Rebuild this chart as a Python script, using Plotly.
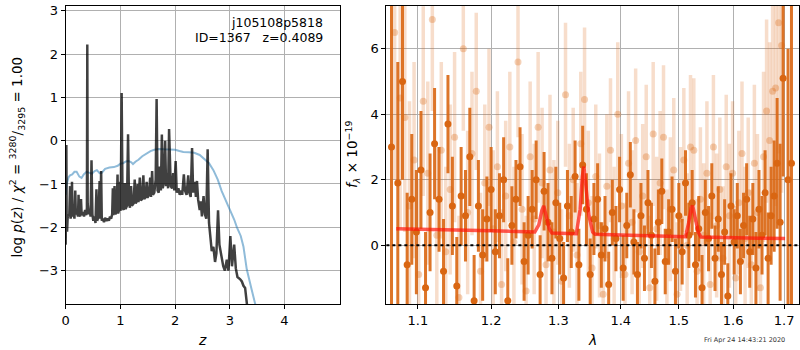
import plotly.graph_objects as go

# ---------------- left panel: log p(z) ----------------
pz_z = [0.000, 0.006, 0.012, 0.018, 0.025, 0.035, 0.050, 0.065, 0.080, 0.090,
        0.105, 0.115, 0.125, 0.145, 0.160, 0.175, 0.185, 0.205, 0.225, 0.235,
        0.245, 0.265, 0.280, 0.292, 0.315, 0.335, 0.355, 0.375, 0.388, 0.395,
        0.402, 0.420, 0.440, 0.455, 0.472, 0.488, 0.505, 0.525, 0.545, 0.562,
        0.575, 0.600, 0.620, 0.632, 0.648, 0.660, 0.680, 0.700, 0.720, 0.745,
        0.770, 0.790, 0.810, 0.830, 0.850, 0.862, 0.872, 0.893, 0.905, 0.930,
        0.948, 0.958, 0.975, 0.990, 1.005, 1.023, 1.040, 1.060, 1.080, 1.095,
        1.120, 1.140, 1.158, 1.175, 1.195, 1.210, 1.240, 1.262, 1.278, 1.300,
        1.315, 1.330, 1.355, 1.372, 1.395, 1.420, 1.435, 1.460, 1.480, 1.495,
        1.520, 1.545, 1.560, 1.580, 1.595, 1.620, 1.645, 1.662, 1.680, 1.700,
        1.720, 1.740, 1.758, 1.775, 1.795, 1.818, 1.835, 1.855, 1.872, 1.890,
        1.905, 1.920, 1.945, 1.965, 1.985, 2.010, 2.030, 2.060, 2.085, 2.110,
        2.130, 2.160, 2.180, 2.210, 2.240, 2.260, 2.285, 2.310, 2.330, 2.360,
        2.380, 2.400, 2.420, 2.450, 2.470, 2.490, 2.520, 2.545, 2.570, 2.595,
        2.620, 2.645, 2.670, 2.700, 2.730, 2.755, 2.785, 2.810, 2.850, 2.880,
        2.910, 2.945, 2.975, 3.010, 3.040, 3.080, 3.110, 3.140, 3.190, 3.220,
        3.250, 3.280, 3.320, 3.360]
pz_logp = [-2.40, -1.20, -0.10, -1.90, -2.10, -1.80, -1.70, -1.75, -1.05, -1.80,
           -1.70, -0.95, -1.75, -1.65, -1.80, -1.15, -1.70, -1.65, -1.75, -1.25,
           -1.70, -1.75, -1.35, -1.72, -1.65, -1.75, -1.60, -1.72, -1.55, 2.22,
           -1.45, -1.70, -1.60, -1.75, -0.45, -1.70, -1.85, -1.75, -1.90, -1.12,
           -1.85, -1.75, -0.93, -1.80, -0.70, -1.85, -1.80, -1.88, -1.78, -1.85,
           -1.80, -1.85, -1.75, -1.80, -1.70, -1.10, -1.72, -1.05, -1.70, -1.65,
           -0.78, -1.68, -1.60, -0.95, -1.62, 1.10, -1.55, -1.60, -0.98, -1.58,
           -1.50, 0.15, -1.45, -1.55, -1.05, -1.50, -1.45, -0.90, -1.45, -1.40,
           -1.00, -1.42, -0.85, -1.38, -1.35, -0.80, -1.35, -1.30, -0.95, -1.32,
           -1.25, -0.85, -1.30, -0.70, -1.25, -1.20, -0.90, 0.96, -1.15, -1.20,
           -0.60, -1.15, 0.14, -1.10, -0.95, 0.00, -1.05, -0.75, -1.10, 0.27,
           -0.40, -1.05, -1.10, -0.75, -1.15, -0.47, -1.20, -1.10, -1.25, -1.15,
           -1.25, -0.78, -1.15, -1.25, -0.80, -1.20, -1.30, -0.17, -1.20, -0.95,
           -1.30, -0.93, -1.35, -1.60, -1.40, -1.75, -1.28, -1.70, -1.80, -0.20,
           -1.90, -2.20, -2.55, -2.45, -2.80, -2.60, -1.61, -2.40, -2.68, -2.90,
           -3.00, -2.75, -3.00, -2.20, -2.90, -2.40, -2.95, -3.15, -3.20, -3.25,
           -3.35, -3.40, -3.85, -3.95]

prior_z = [0.00, 0.02, 0.05, 0.08, 0.12, 0.16, 0.20, 0.25, 0.29, 0.33,
           0.38, 0.43, 0.48, 0.53, 0.57, 0.62, 0.66, 0.72, 0.80, 0.88,
           0.95, 1.00, 1.05, 1.10, 1.15, 1.20, 1.23, 1.28, 1.33, 1.40,
           1.48, 1.55, 1.62, 1.70, 1.80, 1.90, 2.00, 2.08, 2.15, 2.25,
           2.35, 2.45, 2.55, 2.62, 2.70, 2.78, 2.85, 2.93, 3.01, 3.08,
           3.13, 3.20, 3.25, 3.31, 3.40, 3.47]
prior_logp = [-1.25, -1.00, -0.85, -0.80, -0.78, -0.72, -0.72, -0.83, -0.86, -0.78,
              -0.72, -0.74, -0.76, -0.70, -0.68, -0.75, -0.74, -0.65, -0.62, -0.61,
              -0.58, -0.53, -0.52, -0.48, -0.47, -0.50, -0.54, -0.48, -0.44, -0.36,
              -0.29, -0.24, -0.21, -0.19, -0.20, -0.20, -0.21, -0.24, -0.26, -0.27,
              -0.28, -0.33, -0.43, -0.52, -0.68, -0.90, -1.16, -1.38, -1.60, -1.82,
              -2.00, -2.20, -2.45, -2.97, -3.44, -3.80]

# ---------------- right panel: spectrum ----------------
dark_wave = [1.066, 1.074, 1.080, 1.086, 1.092, 1.098, 1.104, 1.110, 1.116, 1.122,
             1.128, 1.134, 1.140, 1.146, 1.152, 1.158, 1.164, 1.170, 1.176, 1.182,
             1.188, 1.194, 1.200, 1.206, 1.212, 1.218, 1.224, 1.230, 1.236, 1.242,
             1.248, 1.254, 1.260, 1.266, 1.272, 1.278, 1.284, 1.290, 1.296, 1.302,
             1.308, 1.314, 1.320, 1.326, 1.332, 1.338, 1.344, 1.350, 1.356, 1.362,
             1.368, 1.374, 1.380, 1.386, 1.392, 1.398, 1.404, 1.410, 1.416, 1.422,
             1.428, 1.434, 1.440, 1.446, 1.452, 1.458, 1.464, 1.470, 1.476, 1.482,
             1.488, 1.494, 1.500, 1.506, 1.512, 1.518, 1.524, 1.530, 1.536, 1.542,
             1.548, 1.554, 1.560, 1.566, 1.572, 1.578, 1.584, 1.590, 1.596, 1.602,
             1.608, 1.614, 1.620, 1.626, 1.632, 1.638, 1.644, 1.650, 1.656, 1.662,
             1.668, 1.674, 1.680, 1.686, 1.692, 1.698, 1.708, 1.715]
dark_flux = [3.0, 1.9, 5.0, -0.6, 1.4, 0.4, 2.3, -1.3, 1.0, 3.1,
             1.4, -0.8, 3.7, 1.2, -1.25, 1.5, 0.9, 2.7, -1.7, 1.2,
             -0.3, 0.8, 1.7, -0.2, 0.9, 2.0, -1.7, 0.6, 1.4, 2.4,
             -0.5, 0.3, 1.1, 2.0, -0.9, 1.65, 0.7, -0.4, 1.3, 0.2,
             -1.0, 1.2, 0.4, 2.1, -0.6, 2.45, 1.1, -0.9, 0.8, 1.4,
             -0.3, 0.5, -1.2, 1.0, 0.2, 1.7, -0.7, 0.6, 2.15, 0.1,
             -0.9, 0.9, -0.4, 1.3, 0.3, -1.1, 0.7, 1.65, -0.5, 0.4,
             1.1, -0.8, 0.9, -0.2, 1.9, 0.3, 1.3, -0.6, 0.5, -1.3,
             1.0, 0.2, 1.5, -0.4, 0.8, -0.9, 0.4, -1.55, 1.2, 0.1,
             0.9, -0.5, 0.6, 1.4, -0.2, 0.8, -0.7, 1.1, 0.3, 1.6,
             -0.4, 0.9, 1.5, 2.5, 0.7, 5.1, 2.0, 2.5]
dark_err = [10.0, 3.7, 3.0, 2.2, 2.0, 1.9, 1.8, 1.7, 1.8, 1.7,
            1.6, 1.6, 1.5, 1.5, 1.5, 1.5, 1.4, 1.5, 1.4, 1.4,
            1.4, 1.3, 1.3, 1.3, 1.3, 1.3, 1.3, 1.2, 1.2, 1.2,
            1.2, 1.2, 1.2, 1.2, 1.2, 1.2, 1.2, 1.1, 1.1, 1.1,
            1.1, 1.1, 1.1, 1.1, 1.1, 1.2, 1.1, 1.1, 1.1, 1.1,
            1.0, 1.0, 1.0, 1.0, 1.0, 1.0, 1.0, 1.0, 1.0, 1.0,
            1.0, 1.0, 1.0, 1.0, 1.0, 1.0, 1.0, 1.0, 1.0, 1.0,
            1.0, 1.0, 1.0, 1.0, 1.0, 1.0, 1.0, 1.0, 1.0, 1.0,
            1.0, 1.0, 1.0, 1.0, 1.0, 1.0, 1.0, 1.0, 1.0, 1.0,
            1.0, 1.0, 1.0, 1.1, 1.1, 1.1, 1.1, 1.2, 1.2, 1.3,
            1.4, 1.5, 1.7, 2.0, 2.4, 3.0, 4.0, 6.0]

light_wave = [1.070, 1.077, 1.083, 1.089, 1.095, 1.101, 1.107, 1.113, 1.119, 1.125,
              1.131, 1.137, 1.143, 1.149, 1.155, 1.161, 1.167, 1.173, 1.179, 1.185,
              1.191, 1.197, 1.203, 1.209, 1.215, 1.221, 1.227, 1.233, 1.239, 1.245,
              1.251, 1.257, 1.263, 1.269, 1.275, 1.281, 1.287, 1.293, 1.299, 1.305,
              1.311, 1.317, 1.323, 1.329, 1.335, 1.341, 1.347, 1.353, 1.359, 1.365,
              1.371, 1.377, 1.383, 1.389, 1.395, 1.401, 1.407, 1.413, 1.419, 1.425,
              1.431, 1.437, 1.443, 1.449, 1.455, 1.461, 1.467, 1.473, 1.479, 1.485,
              1.491, 1.497, 1.503, 1.509, 1.515, 1.521, 1.527, 1.533, 1.539, 1.545,
              1.551, 1.557, 1.563, 1.569, 1.575, 1.581, 1.587, 1.593, 1.599, 1.605,
              1.611, 1.617, 1.623, 1.629, 1.635, 1.641, 1.647, 1.653, 1.659, 1.665,
              1.671, 1.677, 1.683, 1.689, 1.695]
light_flux = [6.5, 4.5, 3.9, 1.2, 2.6, -0.9, 4.4, 2.2, 6.9, 0.3,
              2.9, -0.2, 1.7, 3.3, -1.6, 6.0, 1.0, 2.8, 4.7, -0.8,
              1.9, 3.6, 0.5, 2.4, -1.2, 1.5, 3.0, 0.1, 5.6, 1.1,
              -1.4, 2.7, 0.8, 3.6, 1.9, -0.6, 2.3, 0.4, 1.6, -1.1,
              4.6, 0.9, 2.0, -0.3, 3.1, 4.45, 1.3, -0.7, 2.1, 0.6,
              -1.5, 1.8, 2.9, 0.2, 4.0, 1.2, -0.9, 2.5, 0.7, 3.2,
              -0.2, 1.5, 2.7, -1.3, 3.4, 0.5, 1.9, 3.3, -0.5, 1.1,
              2.3, -1.5, 0.8, 2.6, 0.0, 3.0, 2.9, -0.8, 1.4, 0.3,
              2.2, -1.2, 3.0, 0.6, 1.7, -0.4, 2.4, 0.9, 2.2, -1.0,
              1.3, 2.8, 0.2, 1.6, -0.6, 2.5, 1.0, -1.3, 2.7, 4.1,
              3.2, 4.7, 4.8, 6.8, 6.1]
light_err = [4.5, 4.0, 3.5, 3.2, 3.0, 2.9, 2.9, 2.8, 2.8, 2.7,
             2.7, 2.6, 2.6, 2.6, 2.5, 2.5, 2.5, 2.5, 2.4, 2.4,
             2.4, 2.4, 2.4, 2.3, 2.3, 2.3, 2.3, 2.3, 2.3, 2.3,
             2.3, 2.3, 2.3, 2.3, 2.3, 2.3, 2.3, 2.2, 2.2, 2.2,
             2.2, 2.2, 2.2, 2.2, 2.2, 2.2, 2.2, 2.2, 2.2, 2.2,
             2.2, 2.2, 2.2, 2.2, 2.2, 2.2, 2.2, 2.2, 2.2, 2.2,
             2.2, 2.2, 2.2, 2.2, 2.2, 2.2, 2.2, 2.2, 2.2, 2.2,
             2.2, 2.2, 2.2, 2.2, 2.2, 2.2, 2.2, 2.2, 2.2, 2.2,
             2.2, 2.2, 2.2, 2.2, 2.2, 2.2, 2.2, 2.2, 2.2, 2.2,
             2.2, 2.2, 2.2, 2.3, 2.3, 2.4, 2.4, 2.5, 2.6, 2.8,
             3.0, 3.3, 3.6, 4.0, 4.5]

model_wave = [1.072, 1.100, 1.150, 1.200, 1.250, 1.264, 1.270, 1.2745, 1.2775, 1.281,
              1.286, 1.290, 1.300, 1.320, 1.328, 1.334, 1.3375, 1.340, 1.343, 1.348,
              1.354, 1.358, 1.400, 1.450, 1.500, 1.512, 1.518, 1.5225, 1.525, 1.529,
              1.535, 1.540, 1.560, 1.600, 1.650, 1.702]
model_flux = [0.50, 0.48, 0.46, 0.44, 0.42, 0.40, 0.62, 1.05, 1.20, 0.95,
              0.50, 0.37, 0.36, 0.35, 0.35, 1.10, 2.10, 2.40, 1.90, 0.90,
              0.40, 0.33, 0.31, 0.29, 0.27, 0.26, 0.70, 1.15, 1.20, 0.85,
              0.40, 0.25, 0.24, 0.23, 0.21, 0.20]

z_ticks = [0, 1, 2, 3, 4]
logp_ticks = [-3, -2, -1, 0, 1, 2, 3]
logp_ticktext = ["\u22123", "\u22122", "\u22121", "0", "1", "2", "3"]
wave_ticks = [1.1, 1.2, 1.3, 1.4, 1.5, 1.6, 1.7]
wave_ticktext = ["1.1", "1.2", "1.3", "1.4", "1.5", "1.6", "1.7"]
flux_ticks = [0, 2, 4, 6]

ORANGE = "217,102,18"
FONT = "DejaVu Sans"

fig = go.Figure()

fig.add_trace(go.Scatter(x=prior_z, y=prior_logp, mode="lines",
                         line=dict(color="rgba(31,119,180,0.5)", width=2),
                         xaxis="x", yaxis="y", hoverinfo="skip"))
fig.add_trace(go.Scatter(x=pz_z, y=pz_logp, mode="lines",
                         line=dict(color="rgba(0,0,0,0.75)", width=2.5),
                         xaxis="x", yaxis="y", hoverinfo="skip"))

fig.add_trace(go.Scatter(x=light_wave, y=light_flux, mode="markers",
                         marker=dict(color=f"rgba({ORANGE},0.3)", size=7),
                         error_y=dict(type="data", array=light_err, width=0, thickness=3.5,
                                      color=f"rgba({ORANGE},0.22)"),
                         xaxis="x2", yaxis="y2", hoverinfo="skip"))
fig.add_trace(go.Scatter(x=dark_wave, y=dark_flux, mode="markers",
                         marker=dict(color=f"rgb({ORANGE})", size=7),
                         error_y=dict(type="data", array=dark_err, width=0, thickness=3,
                                      color=f"rgba({ORANGE},0.9)"),
                         xaxis="x2", yaxis="y2", hoverinfo="skip"))
fig.add_trace(go.Scatter(x=model_wave, y=model_flux, mode="lines",
                         line=dict(color="rgba(255,20,10,0.7)", width=3.5),
                         xaxis="x2", yaxis="y2", hoverinfo="skip"))

axis_common = dict(showgrid=True, gridcolor="#b0b0b0", gridwidth=1,
                   showline=True, linecolor="black", linewidth=1, mirror=True,
                   ticks="outside", ticklen=4, tickcolor="black", tickwidth=1,
                   zeroline=False, tickfont=dict(family=FONT, size=13, color="black"))

ydom = [1 - 304 / 350, 1 - 3 / 350]
fig.update_layout(
    width=800, height=350,
    margin=dict(l=0, r=0, t=0, b=0),
    paper_bgcolor="white", plot_bgcolor="white",
    showlegend=False,
    font=dict(family=FONT, size=13, color="black"),
    xaxis=dict(domain=[62 / 800, 338 / 800], range=[0, 5.02], tickvals=z_ticks,
               anchor="y", **axis_common),
    yaxis=dict(domain=ydom, range=[-3.78, 3.11], tickvals=logp_ticks,
               ticktext=logp_ticktext, anchor="x", **axis_common),
    xaxis2=dict(domain=[384.3 / 800, 799 / 800], type="log",
                range=[0.025108, 0.23815], tickvals=wave_ticks,
                ticktext=wave_ticktext, anchor="y2", **axis_common),
    yaxis2=dict(domain=ydom, range=[-1.81, 7.31], tickvals=flux_ticks,
                anchor="x2", **axis_common),
)

fig.add_shape(type="line", xref="x2 domain", x0=0, x1=1, yref="y2", y0=0, y1=0,
              line=dict(color="black", width=2, dash="dot"), layer="above")

def px(x, y):
    return x / 800, 1 - y / 350

annots = [
    dict(xy=(323, 20), text="j105108p5818", xanchor="right", size=12.5, angle=0),
    dict(xy=(323, 35), text="ID=1367\u00a0\u00a0\u00a0z=0.4089", xanchor="right", size=12.5, angle=0),
    dict(xy=(199, 340), text="<i>z</i>", xanchor="center", size=14, angle=0),
    dict(xy=(591, 340), text="<i>λ</i>", xanchor="center", size=14, angle=0),
    dict(xy=(13, 155), text="log\u00a0<i>p</i>(<i>z</i>) / <i>χ</i><sup>2</sup> = <sup>3280</sup>/<sub>3295</sub> = 1.00",
         xanchor="center", size=13.5, angle=-90),
    dict(xy=(350, 153), text="<i>f</i><sub><i>λ</i></sub> × 10<sup>−19</sup>",
         xanchor="center", size=13.5, angle=-90),
    dict(xy=(744, 340), text="Fri Apr 24 14:43:21 2020", xanchor="center", size=6.5, angle=0,
         color="#333333"),
]
for a in annots:
    x, y = px(*a["xy"])
    fig.add_annotation(x=x, y=y, xref="paper", yref="paper", text=a["text"],
                       showarrow=False, xanchor=a["xanchor"], yanchor="middle",
                       textangle=a["angle"],
                       font=dict(family=FONT, size=a["size"], color=a.get("color", "black")))

fig.write_html("out.html", config={"displayModeBar": False},
               post_script="document.body.style.margin='0';document.body.style.overflow='hidden';")
